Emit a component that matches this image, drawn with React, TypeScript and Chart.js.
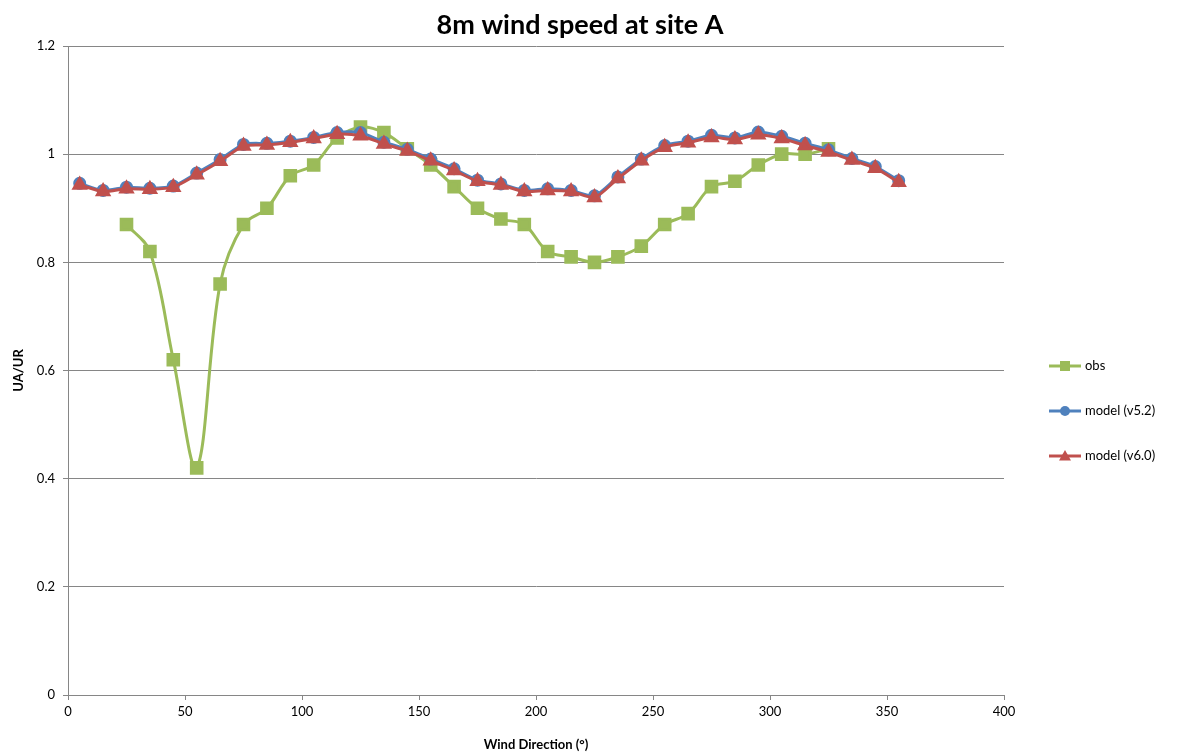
import React, { useEffect, useRef } from "react";
import { Chart, registerables } from "chart.js";

Chart.register(...registerables);

const directions = [5, 15, 25, 35, 45, 55, 65, 75, 85, 95, 105, 115, 125, 135, 145, 155, 165, 175, 185, 195, 205, 215, 225, 235, 245, 255, 265, 275, 285, 295, 305, 315, 325, 335, 345, 355];
const obsDirections = [25, 35, 45, 55, 65, 75, 85, 95, 105, 115, 125, 135, 145, 155, 165, 175, 185, 195, 205, 215, 225, 235, 245, 255, 265, 275, 285, 295, 305, 315, 325];
const obsValues = [0.87, 0.82, 0.62, 0.42, 0.76, 0.87, 0.9, 0.96, 0.98, 1.03, 1.05, 1.04, 1.01, 0.98, 0.94, 0.9, 0.88, 0.87, 0.82, 0.81, 0.8, 0.81, 0.83, 0.87, 0.89, 0.94, 0.95, 0.98, 1.0, 1.0, 1.01];
const modelV52 = [0.946, 0.933, 0.939, 0.937, 0.941, 0.965, 0.99, 1.018, 1.02, 1.024, 1.031, 1.04, 1.04, 1.022, 1.009, 0.991, 0.973, 0.952, 0.945, 0.933, 0.936, 0.933, 0.923, 0.958, 0.991, 1.016, 1.024, 1.035, 1.03, 1.041, 1.033, 1.02, 1.008, 0.992, 0.977, 0.951];
const modelV60 = [0.943, 0.931, 0.936, 0.935, 0.939, 0.962, 0.987, 1.015, 1.017, 1.022, 1.029, 1.037, 1.034, 1.019, 1.006, 0.988, 0.97, 0.95, 0.943, 0.931, 0.933, 0.931, 0.92, 0.955, 0.988, 1.013, 1.021, 1.031, 1.027, 1.036, 1.029, 1.016, 1.004, 0.989, 0.974, 0.948];
const yTicks = [0, 0.2, 0.4, 0.6, 0.8, 1, 1.2];
const chartTitle = "8m wind speed at site A";

const FONT = "Lato, 'Open Sans', sans-serif";
const GREEN = "#9BBB59";
const BLUE = "#4F81BD";
const RED = "#C0504D";
const GRID = "#868686";

const titlePlugin = {
  id: "centerTitle",
  afterDraw(chart: any) {
    const { ctx } = chart;
    ctx.save();
    ctx.fillStyle = "#000";
    ctx.font = `bold 27px ${FONT}`;
    ctx.textAlign = "center";
    ctx.textBaseline = "middle";
    ctx.fillText(chartTitle, 580, 25);
    ctx.restore();
  },
};

const legendPlugin = {
  id: "sideLegend",
  afterDraw(chart: any) {
    const { ctx, chartArea } = chart;
    const cy = (chartArea.top + chartArea.bottom) / 2 - 4.5;
    const x0 = chartArea.right + 45;
    ctx.save();
    chart.data.datasets.forEach((ds: any, i: number) => {
      const y = cy + i * 45;
      ctx.strokeStyle = ds.borderColor;
      ctx.lineWidth = 3;
      ctx.beginPath();
      ctx.moveTo(x0, y);
      ctx.lineTo(x0 + 32, y);
      ctx.stroke();
      ctx.fillStyle = ds.pointBackgroundColor;
      ctx.beginPath();
      const mx = x0 + 16;
      if (ds.pointStyle === "rect") {
        ctx.fillRect(mx - 5, y - 5, 10, 10);
      } else if (ds.pointStyle === "circle") {
        ctx.arc(mx, y, 5, 0, Math.PI * 2);
        ctx.fill();
      } else {
        ctx.moveTo(mx, y - 6);
        ctx.lineTo(mx + 6, y + 4.5);
        ctx.lineTo(mx - 6, y + 4.5);
        ctx.closePath();
        ctx.fill();
      }
      ctx.fillStyle = "#000";
      ctx.font = `13px ${FONT}`;
      ctx.textBaseline = "middle";
      ctx.textAlign = "left";
      ctx.fillText(ds.label, x0 + 36, y);
    });
    ctx.restore();
  },
};

export default function App() {
  const ref = useRef<HTMLCanvasElement>(null);
  useEffect(() => {
    document.body.style.margin = "0";
    const obsPts = obsDirections.map((d, i) => ({ x: d, y: obsValues[i] }));
    const v52Pts = directions.map((d, i) => ({ x: d, y: modelV52[i] }));
    const v60Pts = directions.map((d, i) => ({ x: d, y: modelV60[i] }));
    const chart = new Chart(ref.current!, {
      type: "line",
      data: {
        datasets: [
          {
            label: "obs",
            data: obsPts,
            order: 3,
            borderColor: GREEN,
            backgroundColor: GREEN,
            pointBackgroundColor: GREEN,
            pointBorderColor: GREEN,
            pointStyle: "rect",
            pointRadius: 7.5,
            borderWidth: 3,
            tension: 0.35,
          },
          {
            label: "model (v5.2)",
            data: v52Pts,
            order: 2,
            borderColor: BLUE,
            backgroundColor: BLUE,
            pointBackgroundColor: BLUE,
            pointBorderColor: BLUE,
            pointStyle: "circle",
            pointRadius: 5,
            borderWidth: 3,
            tension: 0.25,
          },
          {
            label: "model (v6.0)",
            data: v60Pts,
            order: 1,
            borderColor: RED,
            backgroundColor: RED,
            pointBackgroundColor: RED,
            pointBorderColor: RED,
            pointStyle: "triangle",
            pointRadius: 6.5,
            borderWidth: 3,
            tension: 0.25,
          },
        ],
      },
      options: {
        responsive: true,
        maintainAspectRatio: false,
        animation: false,
        layout: { padding: { left: 0, right: 175, top: 46, bottom: 0 } },
        plugins: {
          legend: { display: false },
          tooltip: { enabled: false },
          title: { display: false },
        },
        scales: {
          x: {
            type: "linear",
            min: 0,
            max: 400,
            afterFit: (s: any) => { s.height = 58; },
            ticks: { stepSize: 50, color: "#000", font: { family: FONT, size: 13 }, padding: 4 },
            grid: { drawOnChartArea: false, drawTicks: true, tickLength: 5, color: GRID },
            border: { color: GRID, width: 1 },
            title: {
              display: true,
              text: "Wind Direction (°)",
              color: "#000",
              font: { family: FONT, size: 13, weight: "bold" },
              padding: { top: 4, bottom: 0 },
            },
          },
          y: {
            type: "linear",
            min: 0,
            max: 1.2,
            afterFit: (s: any) => { s.width = 68; },
            afterBuildTicks: (s: any) => { s.ticks = yTicks.map((v) => ({ value: v })); },
            ticks: { color: "#000", font: { family: FONT, size: 13 }, padding: 8, callback: (v: any) => String(Math.round(v * 10) / 10) },
            grid: { color: GRID, lineWidth: 1, tickLength: 5 },
            border: { color: GRID, width: 1 },
            title: {
              display: true,
              text: "UA/UR",
              color: "#000",
              font: { family: FONT, size: 13, weight: "bold" },
              padding: { top: 11, bottom: 0 },
            },
          },
        },
      },
      plugins: [legendPlugin, titlePlugin],
    });
    return () => chart.destroy();
  }, []);
  return (
    <div style={{ position: "fixed", left: 0, top: 0, width: 1179, height: 753, background: "#fff" }}>
      <canvas ref={ref} />
    </div>
  );
}
